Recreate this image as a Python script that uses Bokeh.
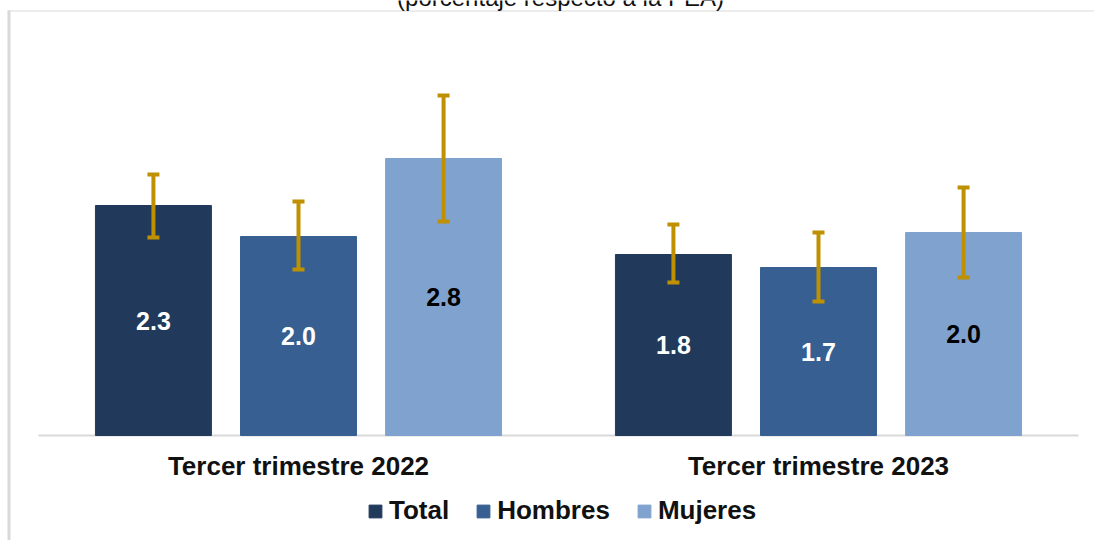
from bokeh.plotting import figure
from bokeh.models import (ColumnDataSource, Range1d, Legend, LegendItem, Label,
                          BoxAnnotation, FixedTicker)
from bokeh.transform import dodge
from bokeh.core.properties import value
from bokeh.embed import file_html
from bokeh.resources import INLINE

# ---- data ----
cats = ["Tercer trimestre 2022", "Tercer trimestre 2023"]
series = ["Total", "Hombres", "Mujeres"]
total = [2.30, 1.81]
hombres = [1.99, 1.68]
mujeres = [2.77, 2.03]
total_lo = [1.98, 1.53]
total_hi = [2.61, 2.11]
hombres_lo = [1.66, 1.34]
hombres_hi = [2.34, 2.03]
mujeres_lo = [2.14, 1.58]
mujeres_hi = [3.40, 2.48]
title_text = "(porcentaje respecto a la PEA)"

colors = ["#213A5C", "#375F91", "#7FA3CE"]
label_colors = ["#FFFFFF", "#FFFFFF", "#000000"]
err_color = "#BF9000"
grid_color = "#D9D9D9"
FONT = "Liberation Sans"

# ---- layout constants (pixels) ----
W, H = 1094, 540
G0_PX, G_STEP = 298, 520      # first group centre, px per group
BASE_PX, Y_STEP = 435, 100    # baseline, px per unit


def xd(px):
    return (px - G0_PX) / G_STEP


def yd(px):
    return (BASE_PX - px) / Y_STEP


gx = list(range(len(cats)))
source = ColumnDataSource(dict(
    gx=gx,
    Total=total, Hombres=hombres, Mujeres=mujeres,
    Total_lo=total_lo, Total_hi=total_hi,
    Hombres_lo=hombres_lo, Hombres_hi=hombres_hi,
    Mujeres_lo=mujeres_lo, Mujeres_hi=mujeres_hi,
    Total_lab=[f"{v:.1f}" for v in total],
    Hombres_lab=[f"{v:.1f}" for v in hombres],
    Mujeres_lab=[f"{v:.1f}" for v in mujeres],
    Total_mid=[v / 2 for v in total],
    Hombres_mid=[v / 2 for v in hombres],
    Mujeres_mid=[v / 2 for v in mujeres],
))

p = figure(width=W, height=H, output_backend="svg", toolbar_location=None,
           x_range=Range1d(xd(0), xd(W)), y_range=Range1d(yd(H), yd(0)),
           y_axis_location=None,
           min_border=0, min_border_left=0, min_border_right=0,
           min_border_top=0, min_border_bottom=0)
p.outline_line_color = None
p.grid.visible = False
p.background_fill_color = "white"
p.border_fill_color = "white"

# chart box border (left and top)
p.add_layout(BoxAnnotation(left=xd(7), right=xd(10), top=yd(10), bottom=yd(H + 20),
                           fill_color=grid_color, fill_alpha=1, line_color=None,
                           line_alpha=0, level="underlay"))
p.add_layout(BoxAnnotation(left=xd(7), right=xd(W + 20), top=yd(10), bottom=yd(11),
                           fill_color=grid_color, fill_alpha=1, line_color=None,
                           line_alpha=0, level="underlay"))

# baseline (category axis line)
p.segment(x0=[gx[0] - 0.5], y0=[0], x1=[gx[-1] + 0.5], y1=[0],
          line_color=grid_color, line_width=2)

offsets = [-0.279, 0.0, 0.279]
bar_w = 0.223
renderers = []
for s, off, col, lcol in zip(series, offsets, colors, label_colors):
    xx = dodge("gx", off)
    r = p.vbar(x=xx, top=s, width=bar_w, source=source, fill_color=col,
               line_color=col, line_width=1)
    renderers.append(r)
    p.text(x=xx, y=s + "_mid", text=s + "_lab", source=source,
           text_align="center", text_baseline="middle", text_color=lcol,
           text_font_size="25px", text_font_style="bold", text_font=value(FONT))
    p.segment(x0=xx, y0=s + "_lo", x1=xx, y1=s + "_hi", source=source,
              line_color=err_color, line_width=4)
    p.scatter(x=xx, y=s + "_hi", source=source, marker="dash", size=12,
              line_color=err_color, line_width=4)
    p.scatter(x=xx, y=s + "_lo", source=source, marker="dash", size=12,
              line_color=err_color, line_width=4)

ax = p.xaxis[0]
ax.fixed_location = 0
ax.ticker = FixedTicker(ticks=gx)
ax.major_label_overrides = {i: c for i, c in zip(gx, cats)}
ax.axis_line_color = None
ax.major_tick_line_color = None
ax.minor_tick_line_color = None
ax.major_label_text_font = FONT
ax.major_label_text_font_size = "26px"
ax.major_label_text_font_style = "bold"
ax.major_label_text_color = "#111111"
ax.major_label_standoff = 9

legend = Legend(items=[LegendItem(label=s, renderers=[r]) for s, r in zip(series, renderers)],
                orientation="horizontal", location=(367, 14),
                glyph_width=16, glyph_height=16, label_standoff=6, spacing=26,
                label_text_font=FONT, label_text_font_size="26px",
                label_text_font_style="bold", label_text_color="#111111",
                border_line_color=None, background_fill_alpha=0,
                padding=0, margin=0)
p.add_layout(legend, "center")

p.add_layout(Label(x=560, y=H + 3, x_units="screen", y_units="screen", text=title_text,
                   text_align="center", text_baseline="alphabetic",
                   text_font=FONT, text_font_size="24px", text_color="#111111"))

open("out.html", "w").write(file_html(p, INLINE))
